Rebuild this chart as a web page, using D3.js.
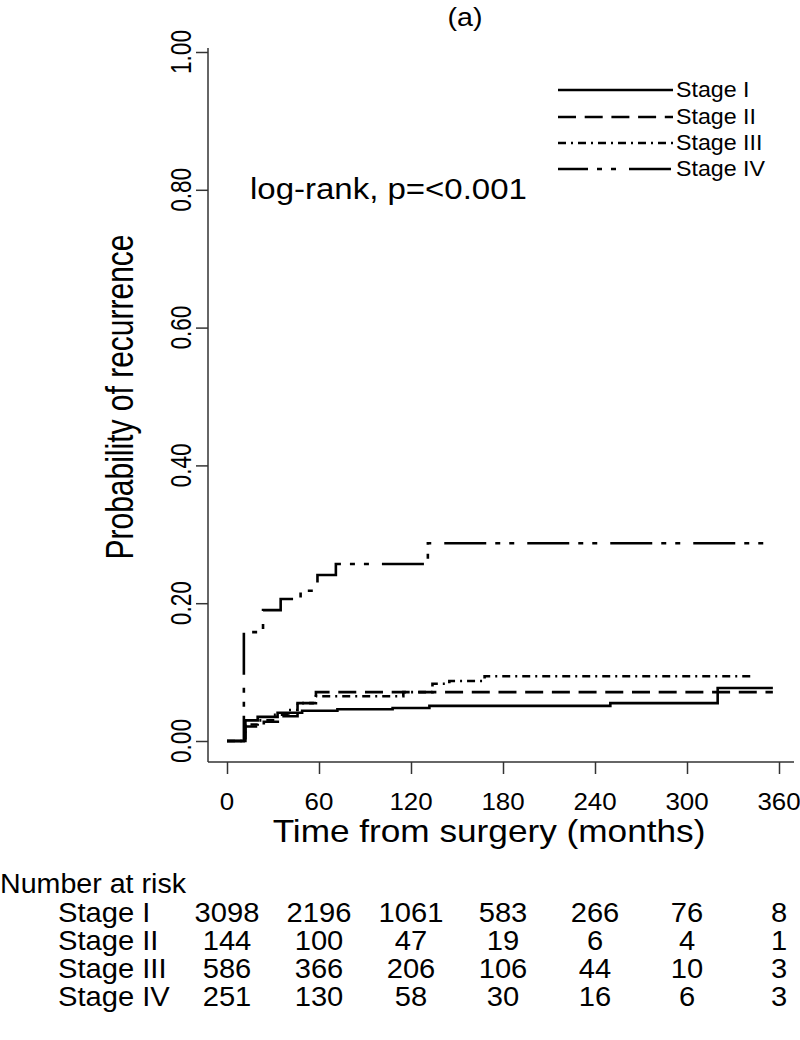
<!DOCTYPE html>
<html><head><meta charset="utf-8">
<script src="https://cdn.jsdelivr.net/npm/d3@7"></script>
<style>body{margin:0;background:#fff} svg{display:block} text{font-family:"Liberation Sans",Arial,sans-serif;fill:#000}</style>
</head><body><svg id="c" width="800" height="1040"></svg>
<script>
// ---- data ----
const timeTicks = [0, 60, 120, 180, 240, 300, 360];
const probTicks = [0, 0.2, 0.4, 0.6, 0.8, 1.0];
const stageLabels = ["Stage I", "Stage II", "Stage III", "Stage IV"];
const stageI   = [[0,0],[12,0.030],[20,0.035],[33,0.041],[49,0.044],[72,0.046],[108,0.048],[132,0.051],[250,0.055],[320,0.077],[356,0.077]];
const stageII  = [[0,0],[12,0.021],[24,0.028],[36,0.036],[46,0.055],[58,0.071],[356,0.071]];
const stageIII = [[0,0],[12,0.024],[20,0.030],[30,0.038],[40,0.045],[46,0.055],[58,0.065],[115,0.071],[134,0.083],[145,0.087],[168,0.094],[343,0.094]];
const stageIV  = [[0,0],[11,0.158],[23.5,0.19],[35,0.206],[48,0.218],[59,0.241],[71,0.257],[131,0.287],[358,0.287]];
const riskI   = [3098, 2196, 1061, 583, 266, 76, 8];
const riskII  = [144, 100, 47, 19, 6, 4, 1];
const riskIII = [586, 366, 206, 106, 44, 10, 3];
const riskIV  = [251, 130, 58, 30, 16, 6, 3];
const titleText = "(a)";
const annotText = "log-rank, p=<0.001";

// ---- styles ----
const dashStyles = [null, "18,8.7", "8,5,2,5", "42,9,5,9,5,13"];

const svg = d3.select("#c");
svg.append("rect").attr("width", 800).attr("height", 1040).attr("fill", "#fff");

const x = d3.scaleLinear().domain([0, 360]).range([227, 779]);
const y = d3.scaleLinear().domain([0, 1]).range([741, 52]);

function txt(px, py, s, fs, anchor, sx, rot) {
  return svg.append("text")
    .attr("transform", `translate(${px},${py}) scale(${sx},1)` + (rot ? ` rotate(${rot})` : ""))
    .attr("font-size", fs).attr("text-anchor", anchor)
    .attr("dominant-baseline", "central").text(s);
}

// axes lines
svg.append("line").attr("x1", 208).attr("x2", 208).attr("y1", 48).attr("y2", 762)
  .attr("stroke", "#333").attr("stroke-width", 1.5);
svg.append("line").attr("x1", 208).attr("x2", 794).attr("y1", 762).attr("y2", 762)
  .attr("stroke", "#333").attr("stroke-width", 1.5);

// axis ticks via d3 axes
const gx = svg.append("g").attr("transform", "translate(0,762)")
  .call(d3.axisBottom(x).tickValues(timeTicks).tickSize(12).tickSizeOuter(0).tickFormat(""));
const gy = svg.append("g").attr("transform", "translate(208,0)")
  .call(d3.axisLeft(y).tickValues(probTicks).tickSize(12).tickSizeOuter(0).tickFormat(""));
[gx, gy].forEach(g => {
  g.select(".domain").remove();
  g.selectAll(".tick line").attr("stroke", "#333").attr("stroke-width", 1.5);
});

timeTicks.forEach(t => txt(x(t), 801, String(t), 24, "middle", 1.08));
probTicks.forEach(p => txt(181, y(p), d3.format(".2f")(p), 22.6, "middle", 1.3, -90));

txt(489, 831, "Time from surgery (months)", 32, "middle", 1.1);
txt(120, 397, "Probability of recurrence", 30, "middle", 1.3, -90);
txt(465, 17, titleText, 26, "middle", 1.1);
txt(250, 189, annotText, 30, "start", 1.1);

// curves
const line = d3.line().x(d => x(d[0])).y(d => y(d[1])).curve(d3.curveStepAfter);
const series = [stageI, stageII, stageIII, stageIV];
series.forEach((s, i) => {
  const p = svg.append("path").datum(s).attr("d", line)
    .attr("fill", "none").attr("stroke", "#000").attr("stroke-width", 2.6);
  if (dashStyles[i]) p.attr("stroke-dasharray", dashStyles[i]);
});

// legend
const legY = [90, 117, 143, 169];
const legOffsets = [0, 0, 0, 12];
stageLabels.forEach((lab, i) => {
  const l = svg.append("line").attr("x1", 558).attr("x2", 673).attr("y1", legY[i]).attr("y2", legY[i])
    .attr("stroke", "#000").attr("stroke-width", 2.6);
  if (dashStyles[i]) l.attr("stroke-dasharray", dashStyles[i]).attr("stroke-dashoffset", legOffsets[i]);
  txt(676, legY[i], lab, 21.5, "start", 1.08);
});

// risk table
txt(0, 884, "Number at risk", 27, "start", 1.06);
const risks = [riskI, riskII, riskIII, riskIV];
const rowY = [912, 940, 968, 996];
risks.forEach((r, i) => {
  txt(58, rowY[i], stageLabels[i], 27.5, "start", 1.06);
  r.forEach((v, j) => txt(x(timeTicks[j]), rowY[i], String(v), 27.5, "middle", 1.06));
});
</script></body></html>
